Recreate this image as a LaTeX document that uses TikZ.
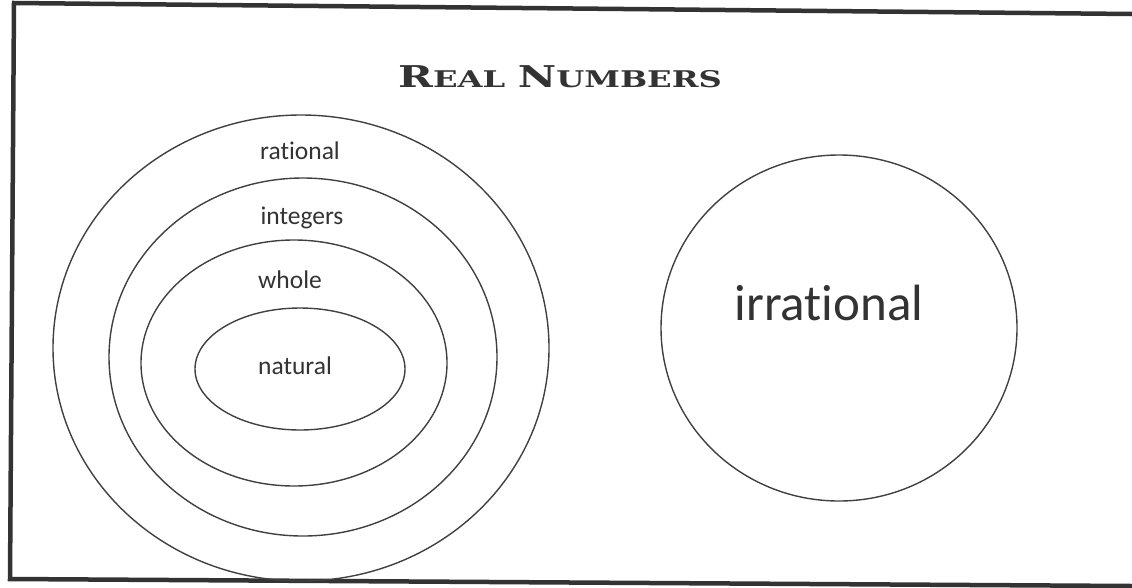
\documentclass[tikz,border=0pt]{standalone}
\usepackage{fontspec}
\setmainfont[RawFeature=-liga]{Carlito}
\newfontfamily\titlefont{DejaVu Serif}
\usepackage{tikz}

\tikzset{
    set/.style={line width=1.4pt, black!75},
    setlabel/.style={anchor=base, inner sep=0pt, text=black!80, font=\fontsize{25.5}{25.5}\selectfont},
}

\begin{document}
\begin{tikzpicture}[x=1pt, y=-1pt]
\useasboundingbox (0,0) rectangle (1132,587);

% --- Frame (open on the right) ---
\draw[line width=4.5pt, black!80, line join=miter]
    (1132,14) -- (14,3) -- (10,579) -- (1132,586);

% --- Title ---
\node[anchor=base, inner sep=0pt, text=black!80, xscale=1.4, transform shape] (title) at (560,87)
    {\titlefont\bfseries{\fontsize{30}{30}\selectfont R}{\fontsize{23}{23}\selectfont EAL}\hspace{9pt}{\fontsize{30}{30}\selectfont N}{\fontsize{23}{23}\selectfont UMBERS}};

% --- Rational numbers: nested sets ---
\draw[set] (301,348) ellipse (248 and 233);
\draw[set] (303,357) ellipse (194 and 179);
\draw[set] (294,363) ellipse (153 and 123);
\draw[set] (300,369) ellipse (105 and 61);

\node[setlabel] (rational) at (300,159) {rational};
\node[setlabel] (integers) at (302,224) {integers};
\node[setlabel] (whole) at (290,288) {whole};
\node[setlabel] (natural) at (295,374) {natural};

% --- Irrational numbers ---
\draw[set] (839,328) ellipse (178 and 173);
\node[setlabel, font=\fontsize{51}{51}\selectfont] (irrational) at (829,320) {irrational};
\end{tikzpicture}
\end{document}
